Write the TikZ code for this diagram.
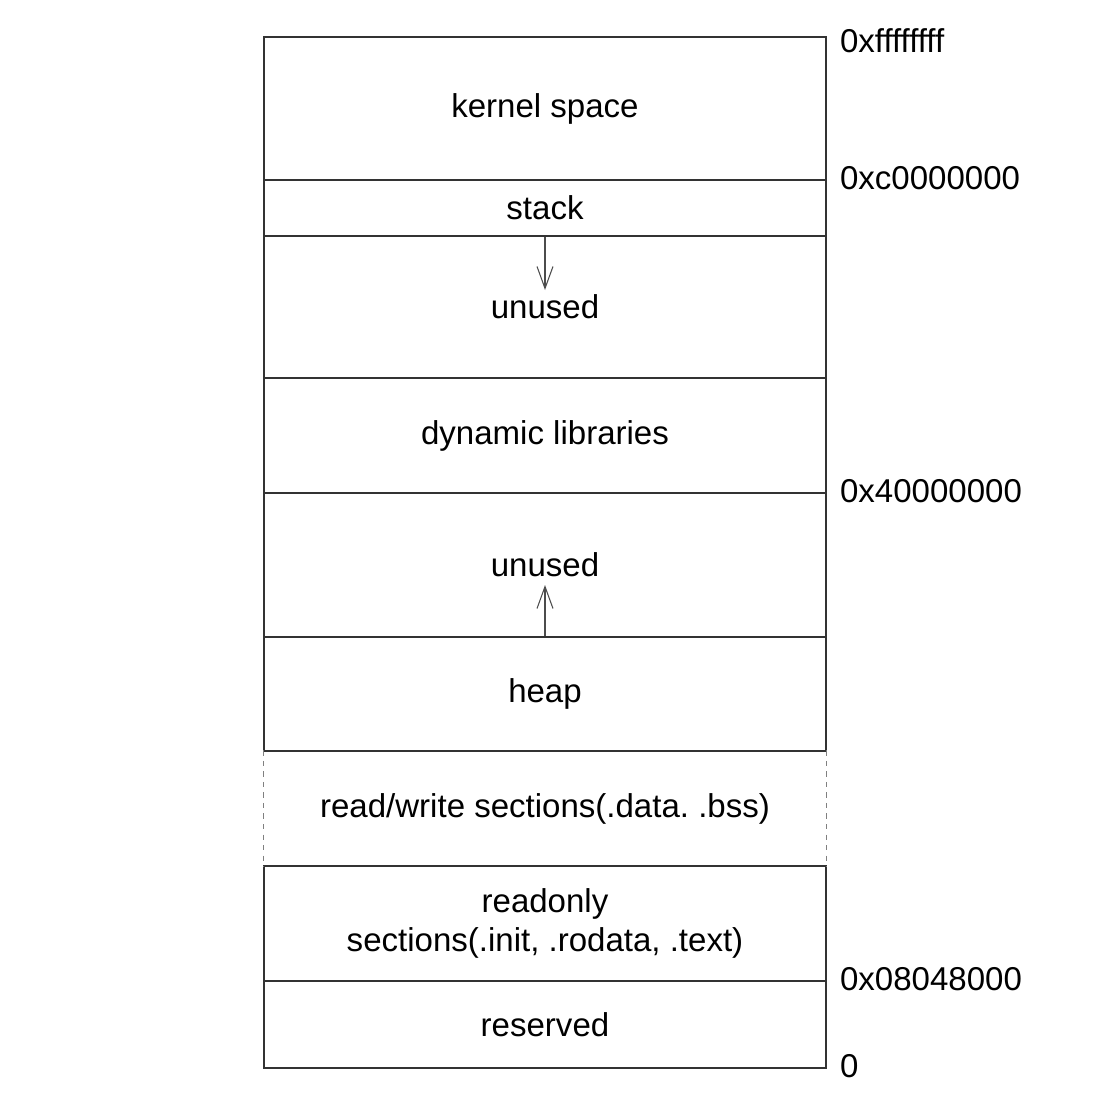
\documentclass[tikz,border=0pt]{standalone}
\usepackage{fontspec}
\setmainfont{Liberation Sans}
\usetikzlibrary{arrows.meta}
\frenchspacing

\tikzset{
  seg/.style={draw=black!80, line width=0.9pt, minimum width=11.24cm, inner sep=0pt, align=center},
  addr/.style={anchor=west, inner sep=0pt, xshift=0.26cm, yshift=0.06cm},
  growarrow/.style={draw=black!70, line width=0.6pt, -{Straight Barb[length=4.4mm, width=3.2mm]}}
}

\begin{document}
\begin{tikzpicture}[x=0.02cm, y=-0.02cm, font=\fontsize{18.8}{22}\selectfont]
    \useasboundingbox (0,0) rectangle (1094,1096);
    % segments
    \node[seg, minimum height=2.86cm] (kernel) at (545,108.5) {kernel space};
    \node[seg, minimum height=1.12cm] (stack) at (545,208) {stack};
    \node[seg, minimum height=2.84cm] (free1) at (545,307) {unused};
    \node[seg, minimum height=2.30cm] (dyn) at (545,435.5) {dynamic libraries};
    \node[seg, minimum height=2.88cm] (free2) at (545,565) {unused};
    \node[seg, minimum height=2.28cm] (heap) at (545,694) {heap};
    \node[seg, draw=none, minimum height=2.30cm] (rw) at (545,808.5) {read/write sections(.data. .bss)};
    \node[seg, minimum height=2.30cm] (ro) at (545,923.5) {readonly\\sections(.init, .rodata, .text)};
    \node[seg, minimum height=1.74cm] (res) at (545,1024.5) {reserved};
    \draw[black!50, dashed] (rw.north west) -- (rw.south west);
    \draw[black!50, dashed] (rw.north east) -- (rw.south east);
    % growth
    \coordinate (downtip) at (545,290);
    \coordinate (uptip) at (545,585);
    \draw[growarrow] (stack.south) -- (downtip);
    \draw[growarrow] (heap.north) -- (uptip);
    % addresses
    \node[addr, yshift=-0.14cm] (atop) at (kernel.north east) {0xffffffff};
    \node[addr] (akernel) at (kernel.south east) {0xc0000000};
    \node[addr] (adyn) at (dyn.south east) {0x40000000};
    \node[addr] (atext) at (ro.south east) {0x08048000};
    \node[addr] (azero) at (res.south east) {0};
\end{tikzpicture}
\end{document}
